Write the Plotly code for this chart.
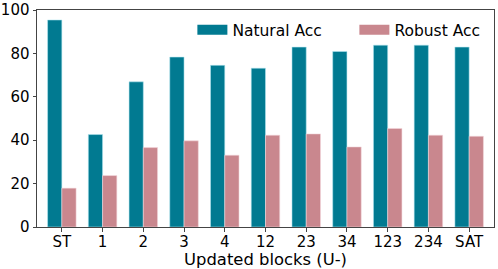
import plotly.graph_objects as go

categories = ["ST", "1", "2", "3", "4", "12", "23", "34", "123", "234", "SAT"]
natural_acc = [95.4, 42.6, 66.9, 78.3, 74.5, 73.2, 82.9, 80.9, 83.8, 83.8, 82.9]
robust_acc = [17.9, 23.7, 36.6, 39.7, 33.1, 42.3, 42.9, 36.9, 45.4, 42.3, 41.8]
y_ticks = [0, 20, 40, 60, 80, 100]
series_names = ["Natural Acc", "Robust Acc"]
colors = ["#017A91", "#C9878E"]
edge_colors = ["rgba(180,230,240,0.8)", "rgba(245,215,220,0.8)"]

x_pos = list(range(len(categories)))
font = "DejaVu Sans"

fig = go.Figure()
for name, vals, c, ec in zip(series_names, [natural_acc, robust_acc], colors, edge_colors):
    fig.add_trace(go.Bar(
        x=x_pos, y=vals, name=name, showlegend=False, legendgroup=name,
        marker=dict(color=c, line=dict(color=ec, width=0.7)),
    ))
# legend handles styled like wide rectangular patches
for name, c in zip(series_names, colors):
    fig.add_trace(go.Scatter(
        x=[None], y=[None], mode="lines", name=name, legendgroup=name,
        line=dict(color=c, width=10), showlegend=True, hoverinfo="skip",
    ))

fig.update_layout(
    width=498, height=269,
    margin=dict(l=37, r=4, t=10, b=42, autoexpand=False),
    paper_bgcolor="white", plot_bgcolor="white",
    barmode="group", bargap=0.3, bargroupgap=0,
    font=dict(family=font, size=15, color="black"),
    showlegend=True,
    legend=dict(
        orientation="h", x=0.34, xanchor="left", y=0.985, yanchor="top",
        bgcolor="rgba(0,0,0,0)", font=dict(size=15.5), itemwidth=30,
        entrywidth=117, entrywidthmode="pixels", tracegroupgap=0,
    ),
    xaxis=dict(
        range=[-0.61, 10.61], tickmode="array", tickvals=x_pos, ticktext=categories,
        showline=True, linecolor="#444", linewidth=1, mirror=True, automargin=False,
        ticks="outside", ticklen=3.5, tickcolor="#444", showgrid=False, zeroline=False,
        ticklabelstandoff=-3,
        title=dict(text="Updated blocks (U-)", font=dict(size=16.4), standoff=0),
    ),
    yaxis=dict(
        range=[0, 100], tickmode="array", tickvals=y_ticks, automargin=False,
        showline=True, linecolor="#444", linewidth=1, mirror=True,
        ticks="outside", ticklen=3.5, tickcolor="#444", showgrid=False, zeroline=False,
    ),
)

fig.write_html(
    "out.html",
    config={"displayModeBar": False},
    post_script="document.body.style.margin='0px';document.body.style.padding='0px';",
)
